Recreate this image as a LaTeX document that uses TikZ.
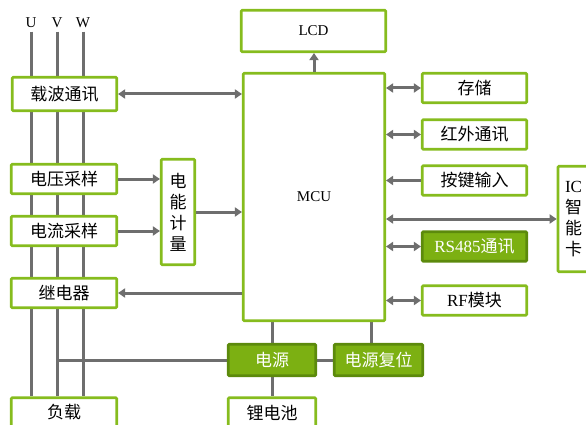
\documentclass[tikz,border=0pt]{standalone}
\usepackage{fontspec}
\setmainfont{Liberation Serif}
\newfontfamily\cjk{Noto Sans CJK SC}
\usepackage{xcolor}
\usetikzlibrary{arrows.meta, backgrounds}

\definecolor{boxgreen}{RGB}{134,188,30}
\definecolor{fillgreen}{RGB}{124,176,18}
\definecolor{edgegreen}{RGB}{92,138,12}
\definecolor{wire}{RGB}{110,110,110}

\begin{document}
\begin{tikzpicture}[x=1pt, y=-1pt,
  every node/.style={font=\fontsize{17}{21}\selectfont\cjk},
  box/.style={draw=boxgreen, line width=2.6pt, fill=white, inner sep=0pt, rounded corners=1pt},
  gbox/.style={box, draw=edgegreen, fill=fillgreen, text=white},
  lat/.style={font=\fontsize{15}{18}\selectfont\rmfamily},
  wireline/.style={draw=wire, line width=3pt},
  arr/.style={wireline, -{Triangle[length=7pt,width=9pt]}},
  darr/.style={wireline, {Triangle[length=7pt,width=9pt]}-{Triangle[length=7pt,width=9pt]}}]
  \useasboundingbox (0,0) rectangle (586,425);
  \clip (0,0) rectangle (586,425);
  % phase labels
  \node[lat] (lu) at (31,23) {U};
  \node[lat] (lv) at (57,23) {V};
  \node[lat] (lw) at (83,23) {W};
  % left column
  \node[box, minimum width=104.5, minimum height=33.5] (zaibo)   at (64.5,94)  {载波通讯};
  \node[box, minimum width=105.5, minimum height=29.5] (dianya)  at (64,179)   {电压采样};
  \node[box, minimum width=105.5, minimum height=29.5] (dianliu) at (64,231)   {电流采样};
  \node[box, minimum width=105.5, minimum height=29.5] (jidian)  at (64,293)   {继电器};
  \node[box, minimum width=105.5, minimum height=29.5] (fuzai)   at (64,412.5) {负载};
  \node[box, minimum width=33.5, minimum height=105.5, align=center] (jiliang) at (178,212)
    {电\\能\\计\\量};
  % MCU + LCD
  \node[box, lat, minimum width=141.5, minimum height=247.5] (mcu) at (314,197) {MCU};
  \node[box, lat, minimum width=144.5, minimum height=41.5]  (lcd) at (313.5,31) {LCD};
  % power
  \node[gbox, minimum width=87.5, minimum height=31.5] (dianyuan) at (272,360)   {电源};
  \node[gbox, minimum width=88.5, minimum height=31.5] (fuwei)    at (378.5,360) {电源复位};
  \node[box, minimum width=87.5, minimum height=29.5]  (libat)    at (272,412.5) {锂电池};
  % right column
  \node[box, minimum width=104.5, minimum height=29.5] (cunchu)  at (474.5,88)    {存储};
  \node[box, minimum width=104.5, minimum height=29.5] (hongwai) at (474.5,134.5) {红外通讯};
  \node[box, minimum width=104.5, minimum height=29.5] (anjian)  at (474.5,180.5) {按键输入};
  \node[gbox, minimum width=104.5, minimum height=29.5] (rs485)   at (474.5,246.5) {{\rmfamily RS485}通讯};
  \node[box, minimum width=104.5, minimum height=29.5] (rf)      at (474.5,300.5) {{\rmfamily RF}模块};
  \node[box, minimum width=64, minimum height=105.5, text width=50, inner xsep=7pt, align=left] (ic)
    at (590,219) {{\rmfamily IC}\\智\\能\\卡};
  % wires behind the boxes
  \begin{scope}[on background layer]
    \draw[wireline] (lu.south) -- (lu.south |- fuzai.north);
    \draw[wireline] (lv.south) -- (lv.south |- fuzai.north);
    \draw[wireline] (lw.south) -- (lw.south |- fuzai.north);
    \draw[wireline] (dianyuan.west) -- (dianyuan.west -| lv.south);
    \draw[wireline] (mcu.south -| dianyuan.north) -- (dianyuan.north);
    \draw[wireline] ([xshift=-15pt]mcu.south east) -- ([xshift=-15pt]mcu.south east |- fuwei.north);
    \draw[wireline] (dianyuan.east) -- (fuwei.west);
    \draw[wireline] (dianyuan.south) -- (libat.north);
  \end{scope}
  % arrows left
  \draw[darr] (zaibo.east) -- (zaibo.east -| mcu.west);
  \draw[arr] (dianya.east) -- (dianya.east -| jiliang.west);
  \draw[arr] (dianliu.east) -- (dianliu.east -| jiliang.west);
  \draw[arr] (jiliang.east) -- (jiliang.east -| mcu.west);
  \draw[arr] (jidian.east -| mcu.west) -- (jidian.east);
  \draw[arr] (mcu.north) -- (mcu.north |- lcd.south);
  % arrows right
  \draw[darr] (mcu.east |- cunchu.west) -- (cunchu.west);
  \draw[darr] (mcu.east |- hongwai.west) -- (hongwai.west);
  \draw[arr] (anjian.west) -- (anjian.west -| mcu.east);
  \draw[darr] (mcu.east |- ic.west) -- (ic.west);
  \draw[darr] (mcu.east |- rs485.west) -- (rs485.west);
  \draw[darr] (mcu.east |- rf.west) -- (rf.west);
\end{tikzpicture}
\end{document}
